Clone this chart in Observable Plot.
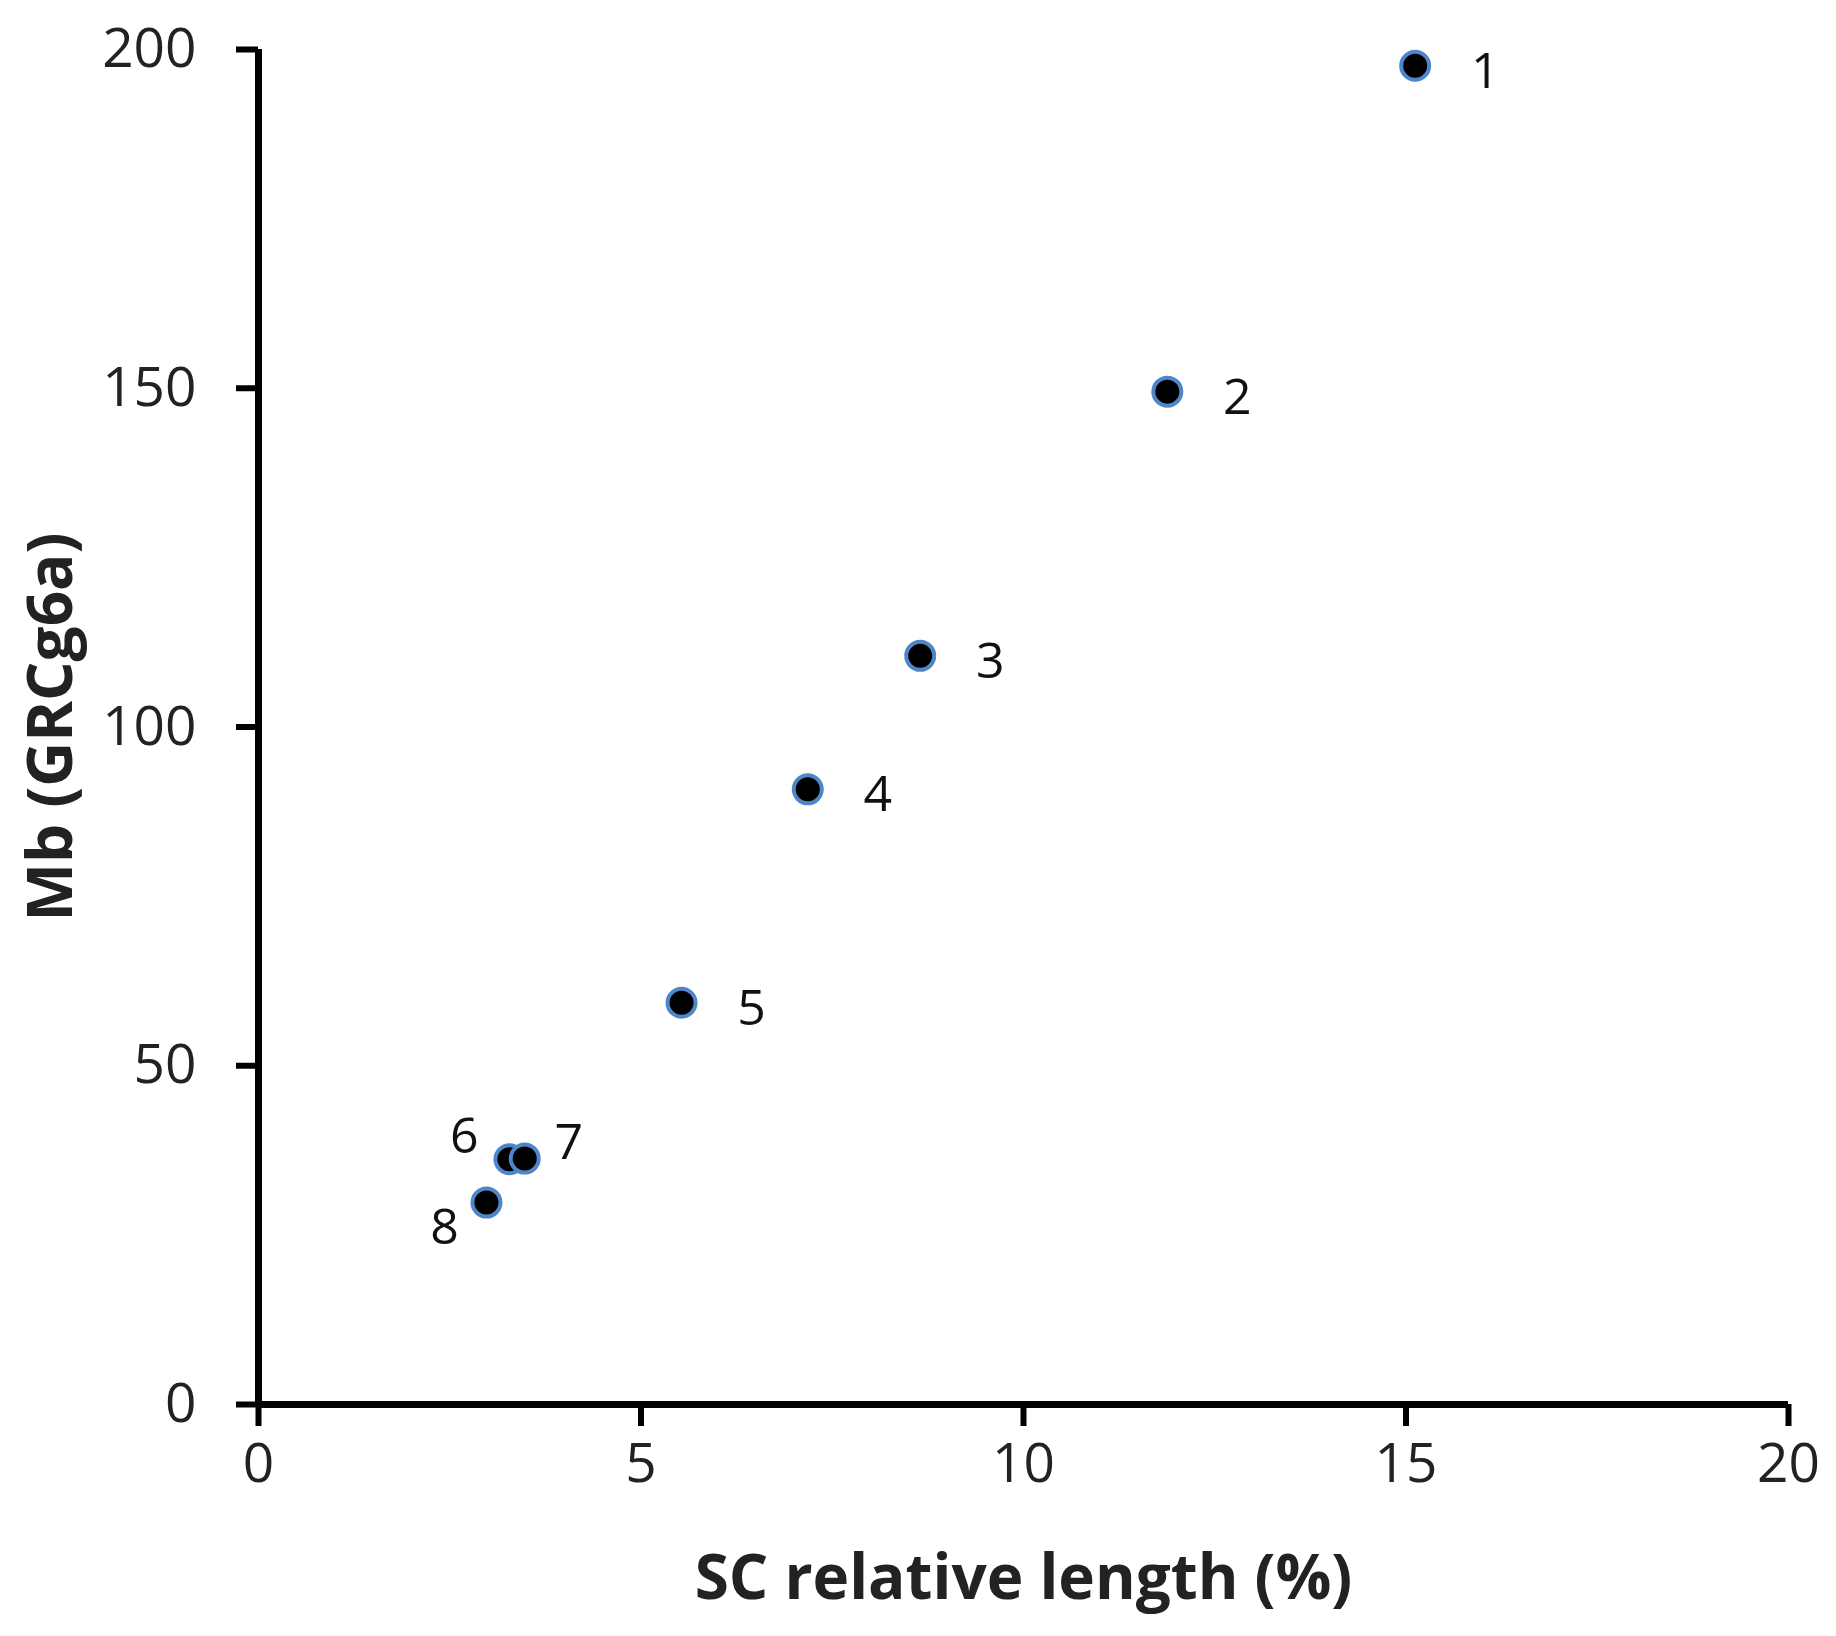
<!DOCTYPE html>
<html>
<head>
<meta charset="utf-8">
<script src="https://cdn.jsdelivr.net/npm/d3@7"></script>
<script src="https://cdn.jsdelivr.net/npm/@observablehq/plot@0.6"></script>
<style>
  html, body { margin: 0; padding: 0; background: #fff; }
</style>
</head>
<body>
<div id="chart"></div>
<script>
const chromosomes = ["1", "2", "3", "4", "5", "6", "7", "8"];
const scLength = [15.12, 11.88, 8.65, 7.18, 5.53, 3.28, 3.48, 2.98];
const mb = [197.6, 149.5, 110.5, 90.8, 59.3, 36.2, 36.3, 29.8];
// label placement relative to the point: "right", "leftUp", "rightUp", "leftDown"
const labelSide = ["right", "right", "right", "right", "right", "leftUp", "rightUp", "leftDown"];
const xTicks = [0, 5, 10, 15, 20];
const yTicks = [0, 50, 100, 150, 200];
const xTitle = "SC relative length (%)";
const yTitle = "Mb (GRCg6a)";

const data = chromosomes.map((c, i) => ({chr: c, x: scLength[i], y: mb[i], side: labelSide[i]}));
const offsets = {right: [70, 6], leftUp: [-45, -22], rightUp: [44, -16], leftDown: [-42, 25]};

const font = "Open Sans, Lato, sans-serif";

const chart = Plot.plot({
  width: 1836,
  height: 1636,
  marginLeft: 258,
  marginRight: 48,
  marginTop: 49,
  marginBottom: 232,
  style: {fontFamily: font, background: "#fff"},
  x: {domain: [0, 20]},
  y: {domain: [0, 200]},
  marks: [
    Plot.axisX({ticks: xTicks, tickSize: 22, tickPadding: 16, strokeWidth: 6, fontSize: 55, fill: "#222", label: null, tickFormat: d => String(d)}),
    Plot.axisY({ticks: yTicks, tickSize: 22, tickPadding: 40, strokeWidth: 6, fontSize: 55, fill: "#222", label: null, tickFormat: d => String(d)}),
    Plot.ruleX([0], {y1: 0, y2: 200, stroke: "#000", strokeWidth: 7}),
    Plot.ruleY([0], {x1: 0, x2: 20, stroke: "#000", strokeWidth: 7}),
    Plot.dot(data, {x: "x", y: "y", r: 14, fill: "#000", stroke: "#4f86c9", strokeWidth: 4}),
    ...Object.keys(offsets).map(side =>
      Plot.text(data.filter(d => d.side === side), {
        x: "x", y: "y", text: "chr",
        dx: offsets[side][0], dy: offsets[side][1],
        fontSize: 50, fill: "#111", textAnchor: "middle", fontFamily: font
      })
    ),
    Plot.text([xTitle], {frameAnchor: "bottom", dy: 194, textAnchor: "middle", fontSize: 62, fontWeight: "bold", fill: "#222", fontFamily: font}),
    Plot.text([yTitle], {frameAnchor: "left", dx: -206, rotate: -90, textAnchor: "middle", fontSize: 62, fontWeight: "bold", fill: "#222", fontFamily: font})
  ]
});
document.getElementById("chart").appendChild(chart);
</script>
</body>
</html>
